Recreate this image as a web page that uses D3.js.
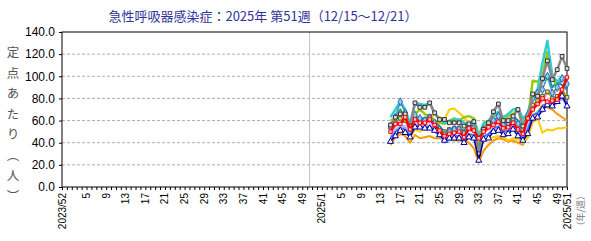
<!DOCTYPE html>
<html>
<head>
<meta charset="utf-8">
<script src="https://cdn.jsdelivr.net/npm/d3@7"></script>
<style>
  body { margin: 0; background: #fff; }
  svg { display: block; }
</style>
</head>
<body>
<svg id="chart" width="591" height="241"></svg>
<script>
// weeks with data: 2025 week 15 .. 51
const dataWeeks = d3.range(15, 52);

// x-axis tick labels (year/week)
const tickLabels = ["2023/52", "2024/5", "2024/9", "2024/13", "2024/17", "2024/21", "2024/25", "2024/29",
    "2024/33", "2024/37", "2024/41", "2024/45", "2024/49", "2025/1", "2025/5", "2025/9", "2025/13",
    "2025/17", "2025/21", "2025/25", "2025/29", "2025/33", "2025/37", "2025/41", "2025/45", "2025/49", "2025/51"];
const yTicks = [0, 20, 40, 60, 80, 100, 120, 140];

// series values (per sentinel), 2025/15 .. 2025/51
const orange   = [38,45,48,46,40,47,44,45,46,44,44,42,43,42,42,42,40,35,22,33,38,42,44,43,41,42,40,38,48,60,68,74,72,70,66,63,60];
const yellow   = [42,50,55,50,45,52,50,55,60,66,63,61,70,71,67,63,57,52,40,40,44,45,46,45,42,44,43,40,44,58,62,49,52,51,53,53,54];
const sky      = [45,52,55,55,47,56,55,54,56,52,46,40,42,43,45,40,46,46,35,45,48,52,54,50,50,53,48,44,55,65,68,72,78,74,76,80,74];
const lavender = [46,50,54,53,46,55,53,52,54,50,46,43,45,45,46,43,47,46,33,45,47,51,53,49,50,54,49,45,53,60,65,68,74,72,76,80,78];
const blue     = [44,50,53,52,46,56,55,54,55,52,48,44,46,46,46,43,48,47,28,46,48,53,55,50,51,55,49,44,52,65,67,73,76,75,80,84,76];
const pink     = [48,55,58,60,50,58,56,56,59,54,50,45,47,48,49,45,51,50,40,49,52,55,58,52,53,57,52,48,60,70,74,78,85,82,88,100,97];
const teal     = [52,60,70,62,52,63,62,62,64,60,55,50,52,53,53,50,56,55,36,54,57,60,63,57,60,64,60,55,68,82,88,95,102,90,95,92,88];
const lime     = [60,62,68,64,55,66,70,66,63,60,58,57,60,62,60,63,64,62,47,56,58,64,66,60,64,66,70,62,60,96,95,100,122,100,90,86,82];
const cyan     = [63,70,77,70,57,76,75,74,76,66,61,58,59,61,61,58,57,61,45,58,60,65,68,63,66,70,71,62,66,81,88,112,132,101,95,100,95];
const olive    = [54,58,62,60,52,62,60,60,64,58,52,50,52,53,53,50,55,54,38,52,56,60,64,56,58,62,56,52,62,74,78,82,86,80,82,84,81];
const steel    = [55,63,77,67,55,65,62,60,62,58,52,47,50,52,52,48,55,54,35,52,56,60,64,56,58,62,57,52,65,80,85,88,100,85,90,98,93];
const gray     = [56,63,66,66,55,76,72,72,76,67,61,61,58,58,58,55,57,59,30,52,58,68,75,60,60,64,70,55,62,84,82,98,114,97,106,118,107];
const navy     = [41,46,51,49,45,54,54,53,53,51,47,42,44,44,44,40,45,44,24,43,44,50,51,47,48,52,46,42,48,62,63,70,74,73,77,82,73];
const red      = [50,57,57,63,52,61,58,58,61,56,51,46,48,49,50,45,53,51,44,50,54,56,59,53,54,58,52,48,62,70,75,80,77,78,79,88,99];

// week label -> running index from 2023/52
function weekIndex(label) {
    const [y, w] = label.split("/").map(Number);
    if (y === 2023) return 0;
    if (y === 2024) return w;
    return 52 + w;
}

const series = [
    { values: orange,   color: "#ff9900", width: 2 },
    { values: yellow,   color: "#ffcc00", width: 2 },
    { values: sky,      color: "#99ccff", width: 2 },
    { values: lavender, color: "#bb99ff", width: 2 },
    { values: blue,     color: "#3366ff", width: 1.5 },
    { values: pink,     color: "#ff99cc", width: 2 },
    { values: teal,     color: "#009999", width: 2 },
    { values: lime,     color: "#99cc00", width: 2.5 },
    { values: cyan,     color: "#33cccc", width: 2.5 },
    { values: olive,    color: "#b3b300", width: 1.5, symbol: d3.symbolSquare, size: 13, fill: "#dddd44", stroke: "#555" },
    { values: steel,    color: "#3399cc", width: 1.5, symbol: d3.symbolDiamond, size: 18, fill: "#88ccee", stroke: "#3366aa" },
    { values: gray,     color: "#888888", width: 2.5, symbol: d3.symbolSquare, size: 14, fill: "#dddddd", stroke: "#333" },
    { values: navy,     color: "#000099", width: 1.5, symbol: d3.symbolTriangle, size: 16, fill: "#ffffff", stroke: "#000099" },
    { values: red,      color: "#ff0000", width: 2.5, symbol: d3.symbolSquare, size: 12, fill: "#ffcccc", stroke: "#ff0000" }
];

const svg = d3.select("#chart");
const margin = { left: 62, right: 24, top: 32, bottom: 54 };
const W = 591, H = 241;

const x = d3.scaleLinear().domain([0, 103]).range([margin.left, W - margin.right]);
const y = d3.scaleLinear().domain([0, 140]).range([H - margin.bottom, margin.top]);

// title
svg.append("text")
    .attr("x", 263).attr("y", 21)
    .attr("text-anchor", "middle")
    .attr("font-family", "'Noto Sans CJK JP', sans-serif")
    .attr("font-size", 13)
    .attr("fill", "#333399")
    .text("急性呼吸器感染症：2025年 第51週（12/15～12/21）");

// gridlines
svg.append("g")
    .selectAll("line")
    .data(yTicks.filter(d => d > 0 && d < 140))
    .join("line")
    .attr("x1", x(0)).attr("x2", x(103))
    .attr("y1", d => y(d)).attr("y2", d => y(d))
    .attr("stroke", "#b0b0b0")
    .attr("stroke-dasharray", "3,2");

// year separator
svg.append("line")
    .attr("x1", x(50.5)).attr("x2", x(50.5))
    .attr("y1", y(140)).attr("y2", y(0))
    .attr("stroke", "#c0c0c0");

// y axis
const yAxis = svg.append("g")
    .attr("transform", `translate(${x(0)},0)`)
    .call(d3.axisLeft(y).tickValues(yTicks).tickSize(3).tickFormat(d3.format(".1f")));
yAxis.select(".domain").remove();
yAxis.selectAll("line").attr("stroke", "#000");
yAxis.selectAll("text")
    .attr("font-family", "'Liberation Sans', Arial, sans-serif")
    .attr("font-size", 12)
    .attr("fill", "#000")
    .attr("dx", -1);

// x axis: a tick for every week
const xAxis = svg.append("g")
    .attr("transform", `translate(0,${y(0)})`)
    .call(d3.axisBottom(x).tickValues(d3.range(0, 104)).tickSize(3).tickFormat(""));
xAxis.select(".domain").remove();
xAxis.selectAll("line").attr("stroke", "#000");

svg.append("g")
    .selectAll("text")
    .data(tickLabels)
    .join("text")
    .attr("transform", d => `translate(${x(weekIndex(d)) + 3.5},${y(0) + 6}) rotate(-90)`)
    .attr("text-anchor", "end")
    .attr("font-family", "'Liberation Sans', Arial, sans-serif")
    .attr("font-size", 10)
    .attr("fill", "#000")
    .text(d => {
        const [yr, wk] = d.split("/");
        return (d === "2023/52" || d === "2025/1" || d === "2025/51") ? d : wk;
    });

svg.append("text")
    .attr("transform", `translate(${x(103) + 17},${y(0) + 4}) rotate(-90)`)
    .attr("text-anchor", "end")
    .attr("font-family", "'Noto Sans CJK JP', sans-serif")
    .attr("font-size", 9)
    .attr("fill", "#777")
    .text("（年/週）");

// y axis title (vertical)
svg.append("text")
    .attr("x", 13).attr("y", 46)
    .attr("writing-mode", "vertical-rl")
    .attr("font-family", "'Noto Sans CJK JP', sans-serif")
    .attr("font-size", 12.5)
    .attr("letter-spacing", 8)
    .attr("fill", "#555")
    .text("定点あたり（人）");

// plot frame
svg.append("rect")
    .attr("x", x(0)).attr("y", y(140))
    .attr("width", x(103) - x(0)).attr("height", y(0) - y(140))
    .attr("fill", "none")
    .attr("stroke", "#000")
    .attr("stroke-width", 1);

// series lines and markers
const line = d3.line()
    .x((d, i) => x(52 + dataWeeks[i]))
    .y(d => y(d));

const g = svg.append("g");
series.forEach(s => {
    g.append("path")
        .datum(s.values)
        .attr("d", line)
        .attr("fill", "none")
        .attr("stroke", s.color)
        .attr("stroke-width", s.width)
        .attr("stroke-linejoin", "round");
    if (s.symbol) {
        g.append("g")
            .selectAll("path")
            .data(s.values)
            .join("path")
            .attr("transform", (d, i) => `translate(${x(52 + dataWeeks[i])},${y(d)})`)
            .attr("d", d3.symbol(s.symbol, s.size))
            .attr("fill", s.fill)
            .attr("stroke", s.stroke)
            .attr("stroke-width", 1);
    }
});
</script>
</body>
</html>
